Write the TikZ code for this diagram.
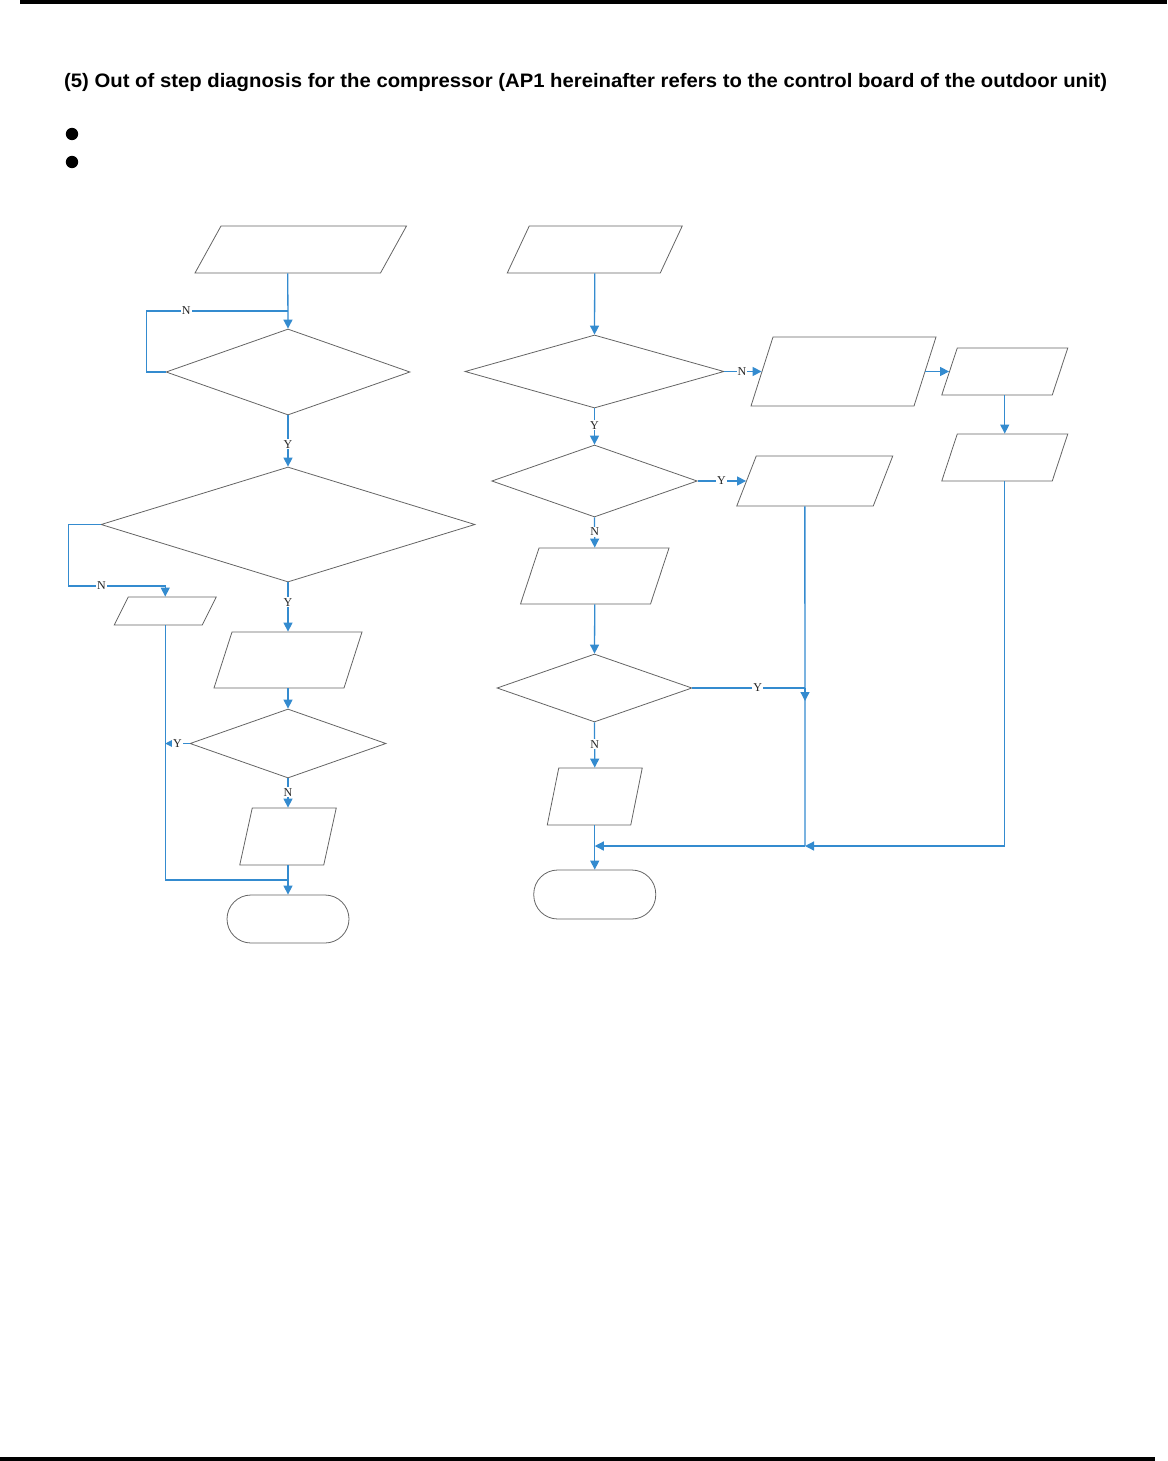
\documentclass[tikz,border=0pt]{standalone}
\usepackage{graphicx}
\usepackage{fontspec}
\setmainfont{Liberation Serif}
\newfontfamily\titlefont{Liberation Sans}
\usetikzlibrary{shapes.geometric,arrows.meta}
\definecolor{flowblue}{RGB}{52,139,207}
\definecolor{edgegray}{RGB}{100,100,100}
\tikzset{
  io/.style n args={3}{draw=edgegray, line width=0.8pt, minimum width=#1pt, minimum height=#2pt, inner sep=0pt, xslant=#3/#2},
  dec/.style 2 args={diamond, draw=edgegray, line width=0.8pt, minimum width=#1pt, minimum height=#2pt, inner sep=0pt},
  term/.style={draw=edgegray, line width=0.8pt, minimum width=122pt, minimum height=48pt, rounded corners=24pt, inner sep=0pt},
  link/.style={draw=flowblue, line width=1.3pt},
  flow/.style={link, -{Triangle[length=9pt,width=9pt]}},
  lbl/.style={fill=white, inner sep=1pt, text=black!85, font=\fontsize{12}{12}\selectfont},
}
\begin{document}
\begin{tikzpicture}[x=1pt, y=-1pt]
  \useasboundingbox (0,0) rectangle (1167,1461);
  % page rules, title and bullets
  \fill (20,0) rectangle (1167,4);
  \fill (0,1457) rectangle (1155,1461);
  \node[anchor=base west, inner sep=0pt, font=\titlefont\bfseries\fontsize{19.5}{19.5}\selectfont] (title) at (64,88)
    {\resizebox{1043pt}{\height}{(5) Out of step diagnosis for the compressor (AP1 hereinafter refers to the control board of the outdoor unit)}};
  \fill (72,134) circle (6.2pt);
  \fill (72,162) circle (6.2pt);

  % left branch
  \node[io={185.5}{47}{26}] (in1) at (300.75,249.5) {};
  \node[dec={244}{86}] (chk1) at (288,372) {};
  \node[dec={374}{115}] (chk2) at (288,524.5) {};
  \node[io={88}{28}{14}] (out1) at (165.25,611) {};
  \node[io={130}{56}{18}] (out2) at (288,660) {};
  \node[dec={196}{69}] (chk3) at (288,743.5) {};
  \node[io={84}{57}{12.5}] (out3) at (288,836.5) {};
  \node[term] (end1) at (288,919) {};
  \coordinate (jn1) at (288,311);
  \coordinate (jn2) at (165.25,586);
  \coordinate (jn3) at (288,880);

  \draw[flow] (in1.center |- in1.south) ++(-13,0) -- (chk1.north);
  \draw[link] (chk1.west) -- ++(-19,0) |- node[lbl,pos=0.64]{N} (jn1);
  \draw[flow] (chk1.south) -- node[lbl,pos=0.56]{Y} (chk2.north);
  \draw[flow] (chk2.west) -- ++(-32,0) |- node[lbl,pos=0.67]{N} (jn2) -- (out1.center |- out1.north);
  \draw[flow] (chk2.south) -- node[lbl,pos=0.4]{Y} (out2.center |- out2.north);
  \draw[flow] (out2.center |- out2.south) -- (chk3.north);
  \draw[flow] (chk3.west) -- node[lbl,pos=0.5]{Y} (chk3.west -| out1.center);
  \draw[flow] (chk3.south) -- node[lbl,pos=0.47]{N} (out3.center |- out3.north);
  \draw[flow] (out3.center |- out3.south) -- (end1.north);
  \draw[link] (out1.center |- out1.south) |- (jn3);

  % right branch
  \node[io={153}{47}{22}] (in2) at (594.75,249.5) {};
  \node[dec={259}{73}] (chk4) at (594.5,371.5) {};
  \node[io={163}{69}{22}] (act1) at (843.5,371.5) {};
  \node[io={110.5}{47}{15.5}] (act2) at (1004.75,371.5) {};
  \node[io={110.5}{47}{15.5}] (act3) at (1004.75,457.5) {};
  \node[dec={205.5}{72}] (chk5) at (594.5,481) {};
  \node[io={136.5}{50}{19.5}] (act4) at (814.75,481) {};
  \node[io={130}{56}{18.5}] (act5) at (594.75,576) {};
  \node[dec={195}{68}] (chk6) at (594.5,688) {};
  \node[io={83.5}{57}{11.5}] (act6) at (594.75,796.5) {};
  \node[term, minimum height=49pt] (end2) at (594.75,894.5) {};
  \coordinate (jn4) at (805,688);
  \coordinate (jn5) at (805,846);
  \coordinate (jn6) at (594.75,846);

  \draw[flow] (in2.center |- in2.south) -- (chk4.north);
  \draw[flow] (chk4.east) -- node[lbl,pos=0.47]{N} (act1.west);
  \draw[flow] (act1.east) -- (act2.west);
  \draw[flow] (act2.center |- act2.south) -- (act3.center |- act3.north);
  \draw[flow] (act3.center |- act3.south) |- (jn5);
  \draw[flow] (jn5) -- (jn6);
  \draw[flow] (chk4.south) -- node[lbl,pos=0.47]{Y} (chk5.north);
  \draw[flow] (chk5.east) -- node[lbl,pos=0.49]{Y} (act4.west);
  \draw[flow] (chk5.south) -- node[lbl,pos=0.48]{N} (act5.center |- act5.north);
  \draw[flow] (act5.center |- act5.south) -- (chk6.north);
  \draw[link] (chk6.east) -- node[lbl,pos=0.58]{Y} (jn4);
  \draw[link] (act4.south) -- (jn5);
  \draw[flow] (jn4) -- ++(0,13);
  \draw[flow] (chk6.south) -- node[lbl,pos=0.48]{N} (act6.center |- act6.north);
  \draw[flow] (act6.center |- act6.south) -- (end2.north);
\end{tikzpicture}
\end{document}
